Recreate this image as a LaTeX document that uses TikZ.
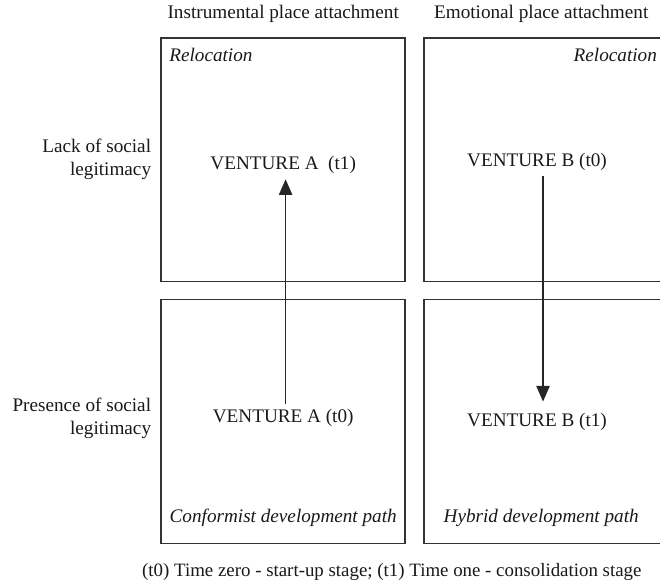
\documentclass[tikz,border=0pt]{standalone}
\usepackage{fontspec}
\setmainfont{Liberation Serif}
\usepackage{tikz}
\usetikzlibrary{arrows.meta}

\begin{document}
\begin{tikzpicture}[x=1cm, y=1cm,
	quad/.style={draw=black!80, line width=0.7pt, minimum width=4.07cm, minimum height=4.06cm, inner sep=0pt},
	txt/.style={text=black!90, font=\fontsize{9.1pt}{11pt}\selectfont, inner sep=1pt},
	lbl/.style={txt, align=right, anchor=east},
	path/.style={draw=black!85, line width=0.7pt, -{Triangle[length=0.26cm, width=0.22cm]}}]
	\useasboundingbox (0,0) rectangle (11,9.75);

	% the four quadrants
	\node[quad] (qtl) at (4.715,7.085) {};
	\node[quad] (qtr) at (9.105,7.085) {};
	\node[quad] (qbl) at (4.715,2.725) {};
	\node[quad] (qbr) at (9.105,2.725) {};

	% column and row headings
	\node[txt] (hinst) at (4.72,9.52) {Instrumental place attachment};
	\node[txt] (hemo) at (9.02,9.52) {Emotional place attachment};
	\node[lbl] (rlack) at (2.56,7.1) {Lack of social\\legitimacy};
	\node[lbl] (rpres) at (2.56,2.78) {Presence of social\\legitimacy};

	\node[txt, anchor=west, font=\fontsize{9.1pt}{11pt}\selectfont\itshape] (rloca) at (2.78,8.83) {Relocation};
	\node[txt, anchor=east, font=\fontsize{9.1pt}{11pt}\selectfont\itshape] (rlocb) at (10.99,8.83) {Relocation};
	\node[txt, font=\fontsize{9.1pt}{11pt}\selectfont\itshape] (pconf) at (4.72,1.12) {Conformist development path};
	\node[txt, font=\fontsize{9.1pt}{11pt}\selectfont\itshape] (phyb) at (9.02,1.12) {Hybrid development path};

	% ventures
	\node[txt] (va1) at (4.72,7.0) {VENTURE A\ \ (t1)};
	\node[txt] (va0) at (4.72,2.78) {VENTURE A (t0)};
	\node[txt] (vb0) at (8.95,7.05) {VENTURE B (t0)};
	\node[txt] (vb1) at (8.95,2.72) {VENTURE B (t1)};

	\draw[path] ([xshift=0.04cm, yshift=0.05cm]va0.north) -- ([xshift=0.04cm, yshift=-0.05cm]va1.south);
	\draw[path] ([xshift=0.1cm, yshift=-0.05cm]vb0.south) -- ([xshift=0.1cm, yshift=0.15cm]vb1.north);

	\node[txt, font=\fontsize{8.95pt}{11pt}\selectfont] (note) at (6.53,0.22) {(t0) Time zero - start-up stage; (t1) Time one - consolidation stage};

\end{tikzpicture}
\end{document}
